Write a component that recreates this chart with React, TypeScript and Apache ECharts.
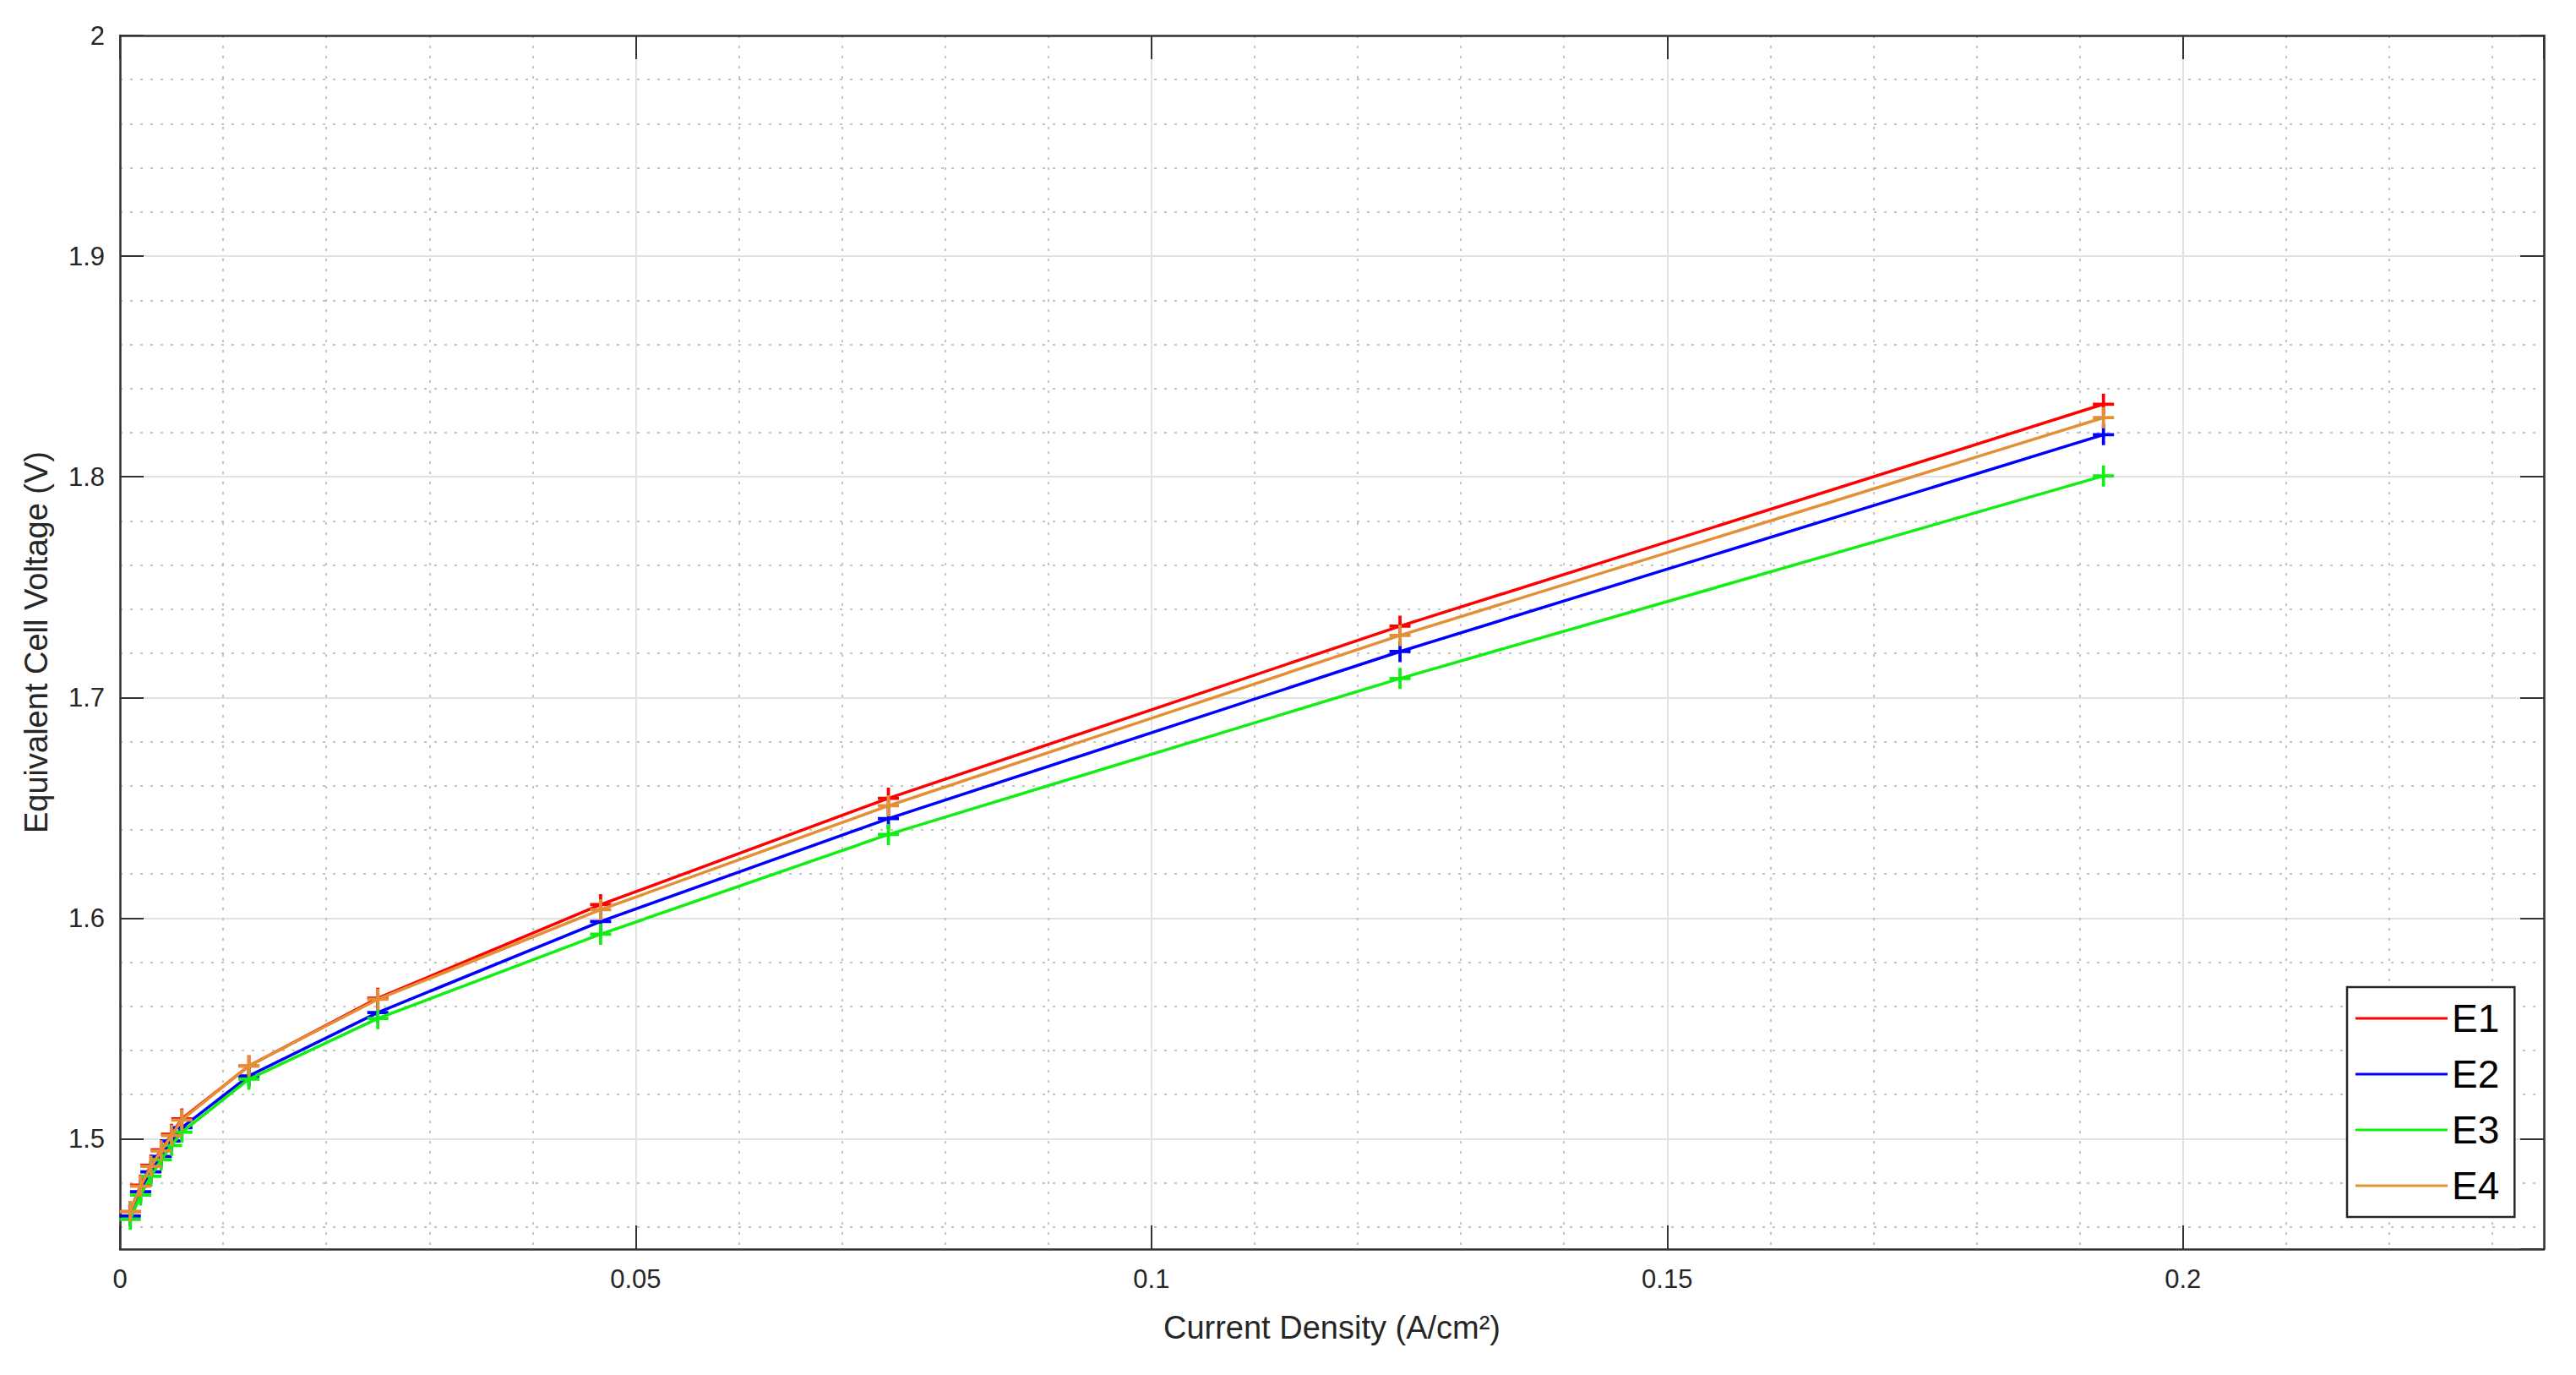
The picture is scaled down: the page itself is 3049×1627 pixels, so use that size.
import React, { useEffect, useRef } from 'react';
import * as echarts from 'echarts';

// Current density (A/cm²) at which each point was measured
const currentDensity = [0.001, 0.002, 0.003, 0.004, 0.005, 0.006, 0.0125, 0.025, 0.0466, 0.0745, 0.1241, 0.1923];

// Equivalent cell voltage (V) per series
const E1 = [1.467, 1.479, 1.488, 1.495, 1.502, 1.509, 1.533, 1.5637, 1.6061, 1.6543, 1.7323, 1.8329];
const E2 = [1.465, 1.476, 1.485, 1.492, 1.499, 1.505, 1.5285, 1.5572, 1.5985, 1.6451, 1.7208, 1.8191];
const E3 = [1.4635, 1.4745, 1.483, 1.4905, 1.497, 1.503, 1.527, 1.5545, 1.5927, 1.6379, 1.7086, 1.8004];
const E4 = [1.467, 1.4785, 1.4875, 1.4945, 1.5015, 1.5085, 1.5331, 1.5632, 1.6038, 1.6509, 1.7281, 1.8268];

const seriesNames = ['E1', 'E2', 'E3', 'E4'];
const seriesValues = [E1, E2, E3, E4];
const seriesColors = ['#ff0000', '#0000ff', '#11ee11', '#e38f36'];

const xName = 'Current Density (A/cm²)';
const yName = 'Equivalent Cell Voltage (V)';

const FONT = '"Liberation Sans", Arial, Helvetica, sans-serif';
const PLUS = 'path://M8.5,0H11.5V8.5H20V11.5H11.5V20H8.5V11.5H0V8.5H8.5Z';
const AXIS_COLOR = '#333333';
const TEXT_COLOR = '#262626';

export default function App() {
  const ref = useRef<HTMLDivElement>(null);

  useEffect(() => {
    if (!ref.current) return;
    const chart = echarts.init(ref.current, null, { renderer: 'svg' });

    const axisLine = { show: true, onZero: false, lineStyle: { color: AXIS_COLOR, width: 2.5 } };
    const axisTick = { show: true, inside: true, length: 28, lineStyle: { color: AXIS_COLOR, width: 2 } };
    const splitLine = { show: true, lineStyle: { color: '#e2e2e2', width: 2 } };
    const minorSplitLine = { show: true, lineStyle: { color: '#c4c4c4', width: 2, type: [3, 9] } };

    const option: any = {
      animation: false,
      backgroundColor: '#ffffff',
      grid: { left: 142, right: 38, top: 42, bottom: 149, containLabel: false },
      legend: {
        orient: 'vertical',
        left: 2778,
        top: 1168,
        data: seriesNames,
        icon: 'rect',
        itemWidth: 109,
        itemHeight: 3,
        itemGap: 16,
        itemTextGap: 16,
        padding: [12, 18, 12, 10],
        backgroundColor: '#ffffff',
        borderColor: '#262626',
        borderWidth: 2.5,
        textStyle: { fontSize: 46, color: '#000000', fontFamily: FONT, lineHeight: 50 },
      },
      xAxis: [
        {
          type: 'value',
          position: 'bottom',
          min: 0,
          max: 0.235,
          interval: 0.05,
          name: xName,
          nameLocation: 'middle',
          nameGap: 74,
          nameTextStyle: { fontSize: 38, color: TEXT_COLOR, fontFamily: FONT },
          axisLine,
          axisTick,
          axisLabel: { fontSize: 31, color: TEXT_COLOR, fontFamily: FONT, margin: 20, showMaxLabel: false },
          splitLine,
          minorTick: { show: false, splitNumber: 5 },
          minorSplitLine,
        },
        {
          type: 'value',
          position: 'top',
          min: 0,
          max: 0.235,
          interval: 0.05,
          axisLine,
          axisTick,
          axisLabel: { show: false },
          splitLine: { show: false },
        },
      ],
      yAxis: [
        {
          type: 'value',
          position: 'left',
          min: 1.45,
          max: 2,
          minInterval: 0.1,
          maxInterval: 0.1,
          name: yName,
          nameLocation: 'middle',
          nameGap: 80,
          nameRotate: 90,
          nameTextStyle: { fontSize: 38, color: TEXT_COLOR, fontFamily: FONT },
          axisLine,
          axisTick,
          axisLabel: { fontSize: 31, color: TEXT_COLOR, fontFamily: FONT, margin: 18, showMinLabel: false },
          splitLine,
          minorTick: { show: false, splitNumber: 5 },
          minorSplitLine,
        },
        {
          type: 'value',
          position: 'right',
          min: 1.45,
          max: 2,
          minInterval: 0.1,
          maxInterval: 0.1,
          axisLine,
          axisTick,
          axisLabel: { show: false },
          splitLine: { show: false },
        },
      ],
      series: seriesNames.map((name, k) => ({
        type: 'line',
        name,
        xAxisIndex: 0,
        yAxisIndex: 0,
        data: currentDensity.map((x, i) => [x, seriesValues[k][i]]),
        symbol: PLUS,
        symbolSize: 25,
        showSymbol: true,
        lineStyle: { color: seriesColors[k], width: 3.5 },
        itemStyle: { color: seriesColors[k] },
        z: 3 + k,
      })),
    };

    chart.setOption(option);
    return () => chart.dispose();
  }, []);

  return (
    <div
      ref={ref}
      style={{ position: 'absolute', left: 0, top: 0, width: 3049, height: 1627, background: '#ffffff' }}
    />
  );
}
